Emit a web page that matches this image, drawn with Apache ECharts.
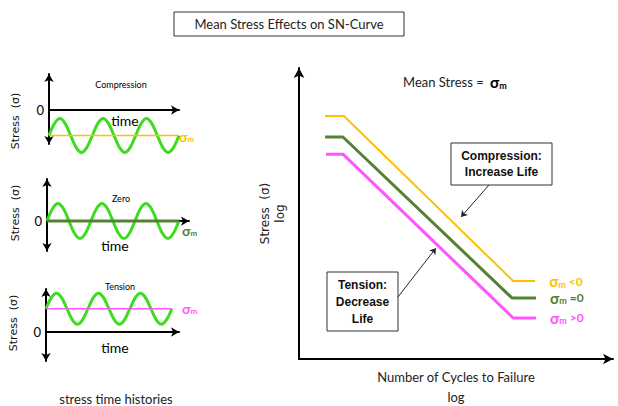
<!DOCTYPE html>
<html><head><meta charset="utf-8">
<script src="https://cdn.jsdelivr.net/npm/echarts@6/dist/echarts.min.js"></script>
<style>html,body{margin:0;padding:0;background:#fff}#c{width:618px;height:406px}</style>
</head><body><div id="c"></div>
<script>
// ---- data ----
const timeX = [0,0.125,0.25,0.375,0.5,0.625,0.75,0.875,1,1.125,1.25,1.375,1.5,1.625,1.75,1.875,2,2.125,2.25,2.375,2.5,2.625,2.75,2.875,3];
const compressionWave = [-1.5,-0.8,-0.5,-0.8,-1.5,-2.2,-2.5,-2.2,-1.5,-0.8,-0.5,-0.8,-1.5,-2.2,-2.5,-2.2,-1.5,-0.8,-0.5,-0.8,-1.5,-2.2,-2.5,-2.2,-1.5];
const compressionMean = [-1.5,-1.5];
const zeroWave = [0,0.7,1,0.7,0,-0.7,-1,-0.7,0,0.7,1,0.7,0,-0.7,-1,-0.7,0,0.7,1,0.7,0,-0.7,-1,-0.7,0];
const zeroMean = [0,0];
const tensionWave = [1.5,2.2,2.5,2.2,1.5,0.8,0.5,0.8,1.5,2.2,2.5,2.2,1.5,0.8,0.5,0.8,1.5,2.2,2.5,2.2,1.5,0.8,0.5,0.8,1.5];
const tensionMean = [1.5,1.5];
const meanX = [0,3];
const panelTitles = ['Compression','Zero','Tension'];
// S-N curves: [log N, log S]
const snCompression = [[0.83,8.35],[1.43,8.35],[6.82,2.68],[7.52,2.68]];
const snZero = [[0.83,7.63],[1.40,7.63],[6.78,2.10],[7.55,2.10]];
const snTension = [[0.86,7.04],[1.40,7.04],[6.82,1.41],[7.55,1.41]];
const snLabels = [' <0',' =0',' >0'];

// ---- styles ----
const F = 'Lato', FD = 'DejaVu Sans';
const ORANGE = '#FFC000', DKGREEN = '#548235', PINK = '#FF55FF', BRIGHT = '#3CDC1E';
const pair = (xs, ys) => xs.map((x,i)=>[x, ys[i]]);

function panelX(gi, max){
  return {type:'value', gridIndex:gi, min:0, max:max,
    axisLine:{show:true, onZero:true, symbol:['none','arrow'], symbolSize:[7,8], lineStyle:{color:'#000', width:2}},
    axisTick:{show:false}, axisLabel:{show:false}, splitLine:{show:false}};
}
function panelY(gi, min, max){
  return {type:'value', gridIndex:gi, min:min, max:max,
    axisLine:{show:true, onZero:false, symbol:['arrow','arrow'], symbolSize:[7,8], lineStyle:{color:'#000', width:2}},
    axisTick:{show:false}, axisLabel:{show:true, customValues:[0], fontSize:13, fontFamily:F, color:'#000', margin:5},
    splitLine:{show:false}};
}
function wave(gi, data){
  return {type:'line', xAxisIndex:gi, yAxisIndex:gi, data:pair(timeX, data), smooth:0.3, symbol:'none',
    clip:false, silent:true, lineStyle:{color:BRIGHT, width:3}, z:2};
}
function meanLine(gi, data, color, width){
  return {type:'line', xAxisIndex:gi, yAxisIndex:gi, data:pair(meanX, data), symbol:'none',
    clip:false, silent:true, lineStyle:{color:color, width:width}, z:3};
}
function sigmaRich(color, size){
  const ms = Math.round(size*0.6);
  return {s:{fontSize:size, fontFamily:F, color:color, fill:color, fontWeight:'bold', lineHeight:size},
          m:{fontSize:ms, fontFamily:F, color:color, fill:color, fontWeight:'bold', verticalAlign:'bottom', lineHeight:ms},
          t:{fontSize:12, fontFamily:F, color:color, fill:color, fontWeight:'bold', lineHeight:size}};
}
function snSeries(name, data, color, width, label){
  return {type:'line', name:name, xAxisIndex:3, yAxisIndex:3, data:data, symbol:'none', silent:true,
    lineStyle:{color:color, width:width},
    endLabel:{show:true, distance:14, formatter:'{s|σ}{m|m}{t|'+label+'}', rich:sigmaRich(color,15)}};
}
function gtext(x, y, text, size, opts){
  return {type:'text', x:x, y:y, silent:true,
    style:Object.assign({text:text, fontSize:size, fontFamily:F, fill:'#000', align:'center', verticalAlign:'middle'}, opts||{})};
}
function sigmaText(x, y, color, size){
  return {type:'text', x:x, y:y, silent:true, style:{text:'{s|σ}{m|m}', align:'left', verticalAlign:'middle', rich:sigmaRich(color,size)}};
}
function vtext(x, y, text, size){
  const g = gtext(x, y, text, size, {fontFamily:FD, fill:'#111'});
  g.rotation = Math.PI/2;
  return g;
}

const chart = echarts.init(document.getElementById('c'), null, {renderer:'svg'});
chart.setOption({
  backgroundColor:'#fff',
  animation:false,
  grid:[
    {left:49, top:74, width:130, height:70, outerBoundsMode:'none'},
    {left:47, top:179, width:142, height:72, outerBoundsMode:'none'},
    {left:46, top:289, width:133, height:72, outerBoundsMode:'none'},
    {left:299, top:68, width:314, height:291, outerBoundsMode:'none'}
  ],
  xAxis:[
    panelX(0, 3), panelX(1, 3.23), panelX(2, 3.17),
    {type:'value', gridIndex:3, min:0, max:10,
      name:'Number of Cycles to Failure\nlog', nameLocation:'middle', nameGap:8,
      nameTextStyle:{fontSize:13, fontFamily:F, color:'#222', lineHeight:20, verticalAlign:'top'},
      axisLine:{show:true, symbol:['none','arrow'], symbolSize:[8,10], lineStyle:{color:'#000', width:2}},
      axisTick:{show:false}, axisLabel:{show:false}, splitLine:{show:false}}
  ],
  yAxis:[
    panelY(0, -2, 2.12), panelY(1, -1.71, 2.4), panelY(2, -1.87, 2.77),
    {type:'value', gridIndex:3, min:0, max:10,
      name:'Stress  (σ)\nlog', nameLocation:'middle', nameGap:12, nameRotate:90,
      nameTextStyle:{fontSize:12, fontFamily:FD, color:'#222', lineHeight:15},
      axisLine:{show:true, symbol:['none','arrow'], symbolSize:[8,10], lineStyle:{color:'#000', width:2}},
      axisTick:{show:false}, axisLabel:{show:false}, splitLine:{show:false}}
  ],
  series:[
    wave(0, compressionWave), meanLine(0, compressionMean, ORANGE, 1.5),
    wave(1, zeroWave), meanLine(1, zeroMean, DKGREEN, 3),
    wave(2, tensionWave), meanLine(2, tensionMean, PINK, 1.5),
    Object.assign(snSeries('σm <0', snCompression, ORANGE, 2, snLabels[0]), {
      markLine:{silent:true, symbol:['none','arrow'], symbolSize:6, label:{show:false},
        lineStyle:{color:'#222', width:1, type:'solid'},
        data:[[{coord:[6.05,5.98]},{coord:[5.16,4.88]}],[{coord:[3.15,2.13]},{coord:[4.36,3.81]}]]}}),
    snSeries('σm =0', snZero, DKGREEN, 3, snLabels[1]),
    snSeries('σm >0', snTension, PINK, 3, snLabels[2])
  ],
  graphic:[
    {type:'rect', shape:{x:174, y:12, width:230, height:24}, style:{fill:'#fff', stroke:'#333', lineWidth:1}, silent:true},
    gtext(289, 24, 'Mean Stress Effects on SN-Curve', 13, {fill:'#222'}),
    gtext(121, 84, panelTitles[0], 9),
    gtext(121, 198, panelTitles[1], 9),
    gtext(120, 286, panelTitles[2], 9),
    gtext(125, 120, 'time', 14),
    gtext(115, 245, 'time', 14),
    gtext(115, 347, 'time', 14),
    vtext(15, 121, 'Stress  (σ)', 11),
    vtext(15, 213, 'Stress  (σ)', 11),
    vtext(13, 323, 'Stress  (σ)', 11),
    sigmaText(179, 136, ORANGE, 14),
    sigmaText(182, 230, DKGREEN, 14),
    sigmaText(182, 308, PINK, 14),
    gtext(116, 399, 'stress time histories', 13, {fill:'#222'}),
    gtext(445, 82, 'Mean Stress = ', 13, {fill:'#222'}),
    sigmaText(490, 82, '#000', 15),
    {type:'rect', shape:{x:451, y:143, width:101, height:42}, style:{fill:'#fff', stroke:'#333', lineWidth:1}, silent:true},
    gtext(501.5, 164, 'Compression:\nIncrease Life', 12, {fontFamily:'Liberation Sans', fontWeight:'bold', lineHeight:16, fill:'#111'}),
    {type:'rect', shape:{x:327, y:272, width:71, height:59}, style:{fill:'#fff', stroke:'#333', lineWidth:1}, silent:true},
    gtext(362.5, 301.5, 'Tension:\nDecrease\nLife', 12, {fontFamily:'Liberation Sans', fontWeight:'bold', lineHeight:17, fill:'#111'})
  ]
});
</script></body></html>
